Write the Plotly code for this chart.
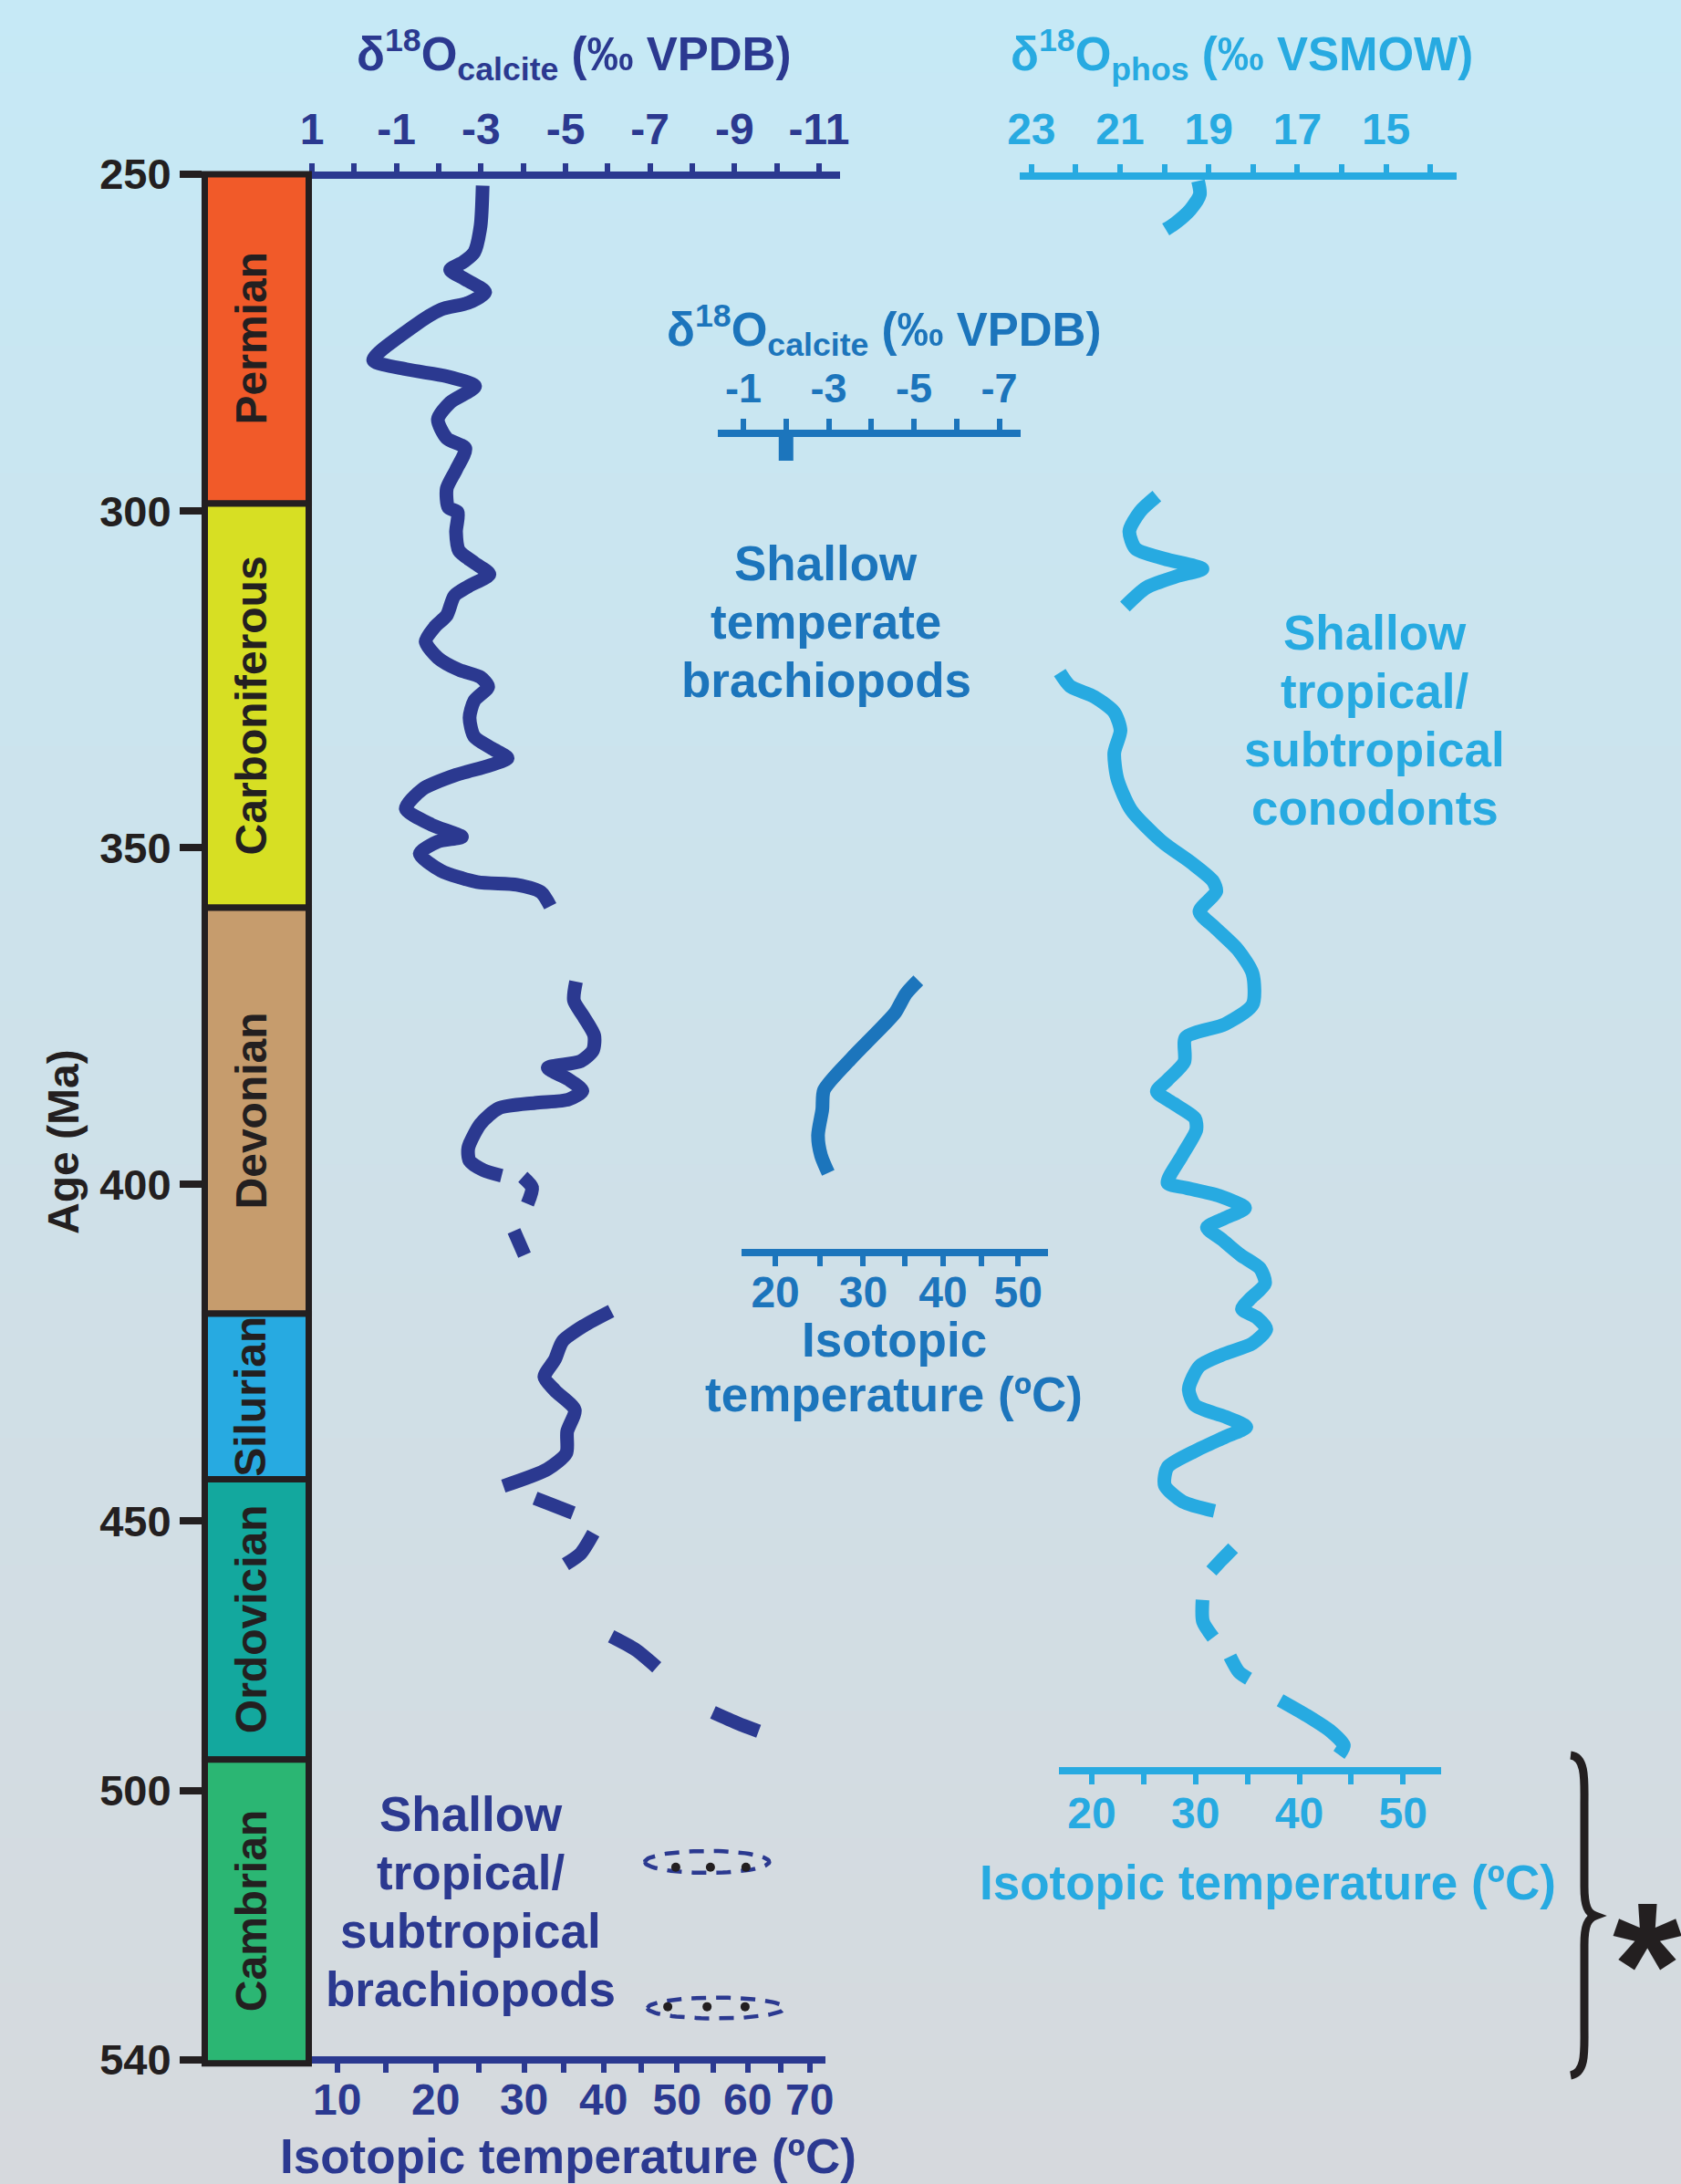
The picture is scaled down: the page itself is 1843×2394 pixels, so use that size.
import numpy as np
import plotly.graph_objects as go

W, H = 1843, 2394
FONT = "Liberation Sans, Arial, Helvetica, sans-serif"
NAVY = "#2B3990"
MID = "#1C75BC"
LIGHT = "#27AAE1"
BLACK = "#231F20"

# ------------------------------------------------------------------ DATA
# Geological periods (age axis, Ma, as drawn)
periods = ["Permian", "Carboniferous", "Devonian", "Silurian", "Ordovician", "Cambrian"]
period_top = [250.0, 298.9, 358.9, 419.2, 443.8, 485.4]
period_base = [298.9, 358.9, 419.2, 443.8, 485.4, 530.5]
period_colors = ["#F15A29", "#D7DF23", "#C69C6D", "#27AAE1", "#13A89E", "#2BB673"]

age_tick_text = ["250", "300", "350", "400", "450", "500", "540"]
age_tick_pos = [250, 300, 350, 400, 450, 490, 530]

# Shallow tropical/subtropical brachiopods: d18O calcite (permil VPDB)
trop_brach_seg1_d18o = [-3.04, -2.99, -2.84, -2.59, -2.27, -2.60, -3.10, -2.70, -2.05, -1.40, -0.45,
                        -1.26, -2.19, -2.86, -2.27, -1.98, -2.19, -2.63, -2.41, -2.19, -2.23, -2.45,
                        -2.41, -2.48, -2.84, -3.20, -2.70, -2.37, -2.19, -1.91, -1.69, -1.98, -2.48,
                        -2.99, -3.17, -2.84, -2.73, -2.84, -3.27, -3.63, -3.20, -2.41, -1.62, -1.22,
                        -1.83, -2.55, -1.98, -1.55, -2.05, -2.91, -3.85, -4.42, -4.64]
trop_brach_seg1_age = [251.7, 257.7, 261.6, 263.0, 264.2, 265.5, 267.5, 269.1, 270.1, 272.6, 277.6,
                       279.0, 280.0, 281.5, 283.9, 286.4, 289.2, 290.7, 293.9, 296.7, 299.5, 300.2,
                       303.1, 305.9, 307.7, 309.4, 311.2, 312.6, 315.5, 317.2, 319.4, 321.8, 323.6,
                       324.7, 326.1, 328.2, 330.7, 333.5, 335.3, 336.7, 337.8, 339.2, 341.3, 344.2,
                       346.6, 348.4, 349.1, 350.9, 353.4, 355.1, 355.5, 356.6, 358.7]
trop_brach_seg2_d18o = [-5.25, -5.20, -5.43, -5.68, -5.65, -5.36, -4.58, -5.07, -5.40, -5.07, -4.28,
                        -3.42, -2.99, -2.70, -2.73, -3.06, -3.49]
trop_brach_seg2_age = [369.9, 372.7, 375.1, 377.9, 380.1, 381.7, 382.7, 384.4, 386.1, 387.4, 387.9,
                       388.7, 391.0, 394.6, 396.5, 397.9, 398.7]
trop_brach_seg3_d18o = [-6.08, -5.43, -4.93, -4.75, -4.50, -4.75, -5.22, -5.04, -5.02, -4.57, -3.53]
trop_brach_seg3_age = [418.8, 421.0, 423.3, 426.0, 428.6, 430.6, 433.5, 436.7, 439.9, 442.3, 444.8]
trop_brach_dash_d18o = [[-3.99, -4.21, -4.10], [-3.78, -4.03], [-4.28, -5.18],
                        [-5.66, -5.36, -5.00], [-6.08, -6.66, -7.16], [-8.49, -9.07, -9.57]]
trop_brach_dash_age = [[398.9, 400.5, 402.9], [406.9, 410.5], [446.6, 448.8],
                       [451.8, 454.8, 456.4], [467.1, 469.1, 471.7], [478.4, 480.0, 481.2]]

# Shallow temperate brachiopods: d18O calcite (permil VPDB)
temp_brach_d18o = [-5.10, -4.81, -4.56, -4.10, -3.53, -2.89, -2.85, -2.75, -2.82, -2.99]
temp_brach_age = [369.7, 371.7, 374.5, 377.6, 381.3, 386.0, 388.9, 392.7, 395.7, 398.3]
temp_brach_marker_d18o = -2.0

# Shallow tropical/subtropical conodonts: d18O phosphate (permil VSMOW)
cono_seg1_d18o = [19.24, 19.20, 19.42, 19.76, 19.97]
cono_seg1_age = [251.0, 253.0, 255.3, 257.3, 258.2]
cono_seg2_d18o = [20.17, 20.55, 20.79, 20.65, 20.00, 19.14, 19.72, 20.41, 20.89]
cono_seg2_age = [297.8, 300.1, 303.0, 305.6, 307.1, 308.6, 309.7, 311.4, 314.2]
cono_seg3_d18o = [22.36, 22.13, 21.58, 21.13, 20.99, 21.13, 21.06, 20.75, 20.07, 19.38, 18.90,
                  18.83, 19.21, 18.87, 18.35, 18.01, 18.01, 18.63, 19.52, 19.55, 19.93, 20.17,
                  19.79, 19.31, 19.28, 19.59, 19.93, 19.52, 18.76, 18.18, 18.63, 19.04, 18.70,
                  18.28, 17.84, 17.73, 18.08, 18.25, 17.91, 17.70, 18.01, 18.70, 19.21, 19.45,
                  19.31, 18.63, 18.15, 18.63, 19.31, 19.93, 19.99, 19.59, 18.87]
cono_seg3_age = [324.0, 326.0, 327.6, 329.9, 332.6, 335.9, 339.8, 344.4, 349.0, 352.3, 355.0,
                 356.5, 359.5, 361.8, 365.1, 368.7, 373.3, 376.2, 378.2, 381.8, 384.5, 386.2,
                 388.0, 390.2, 391.9, 395.6, 399.8, 400.5, 401.7, 403.5, 405.0, 406.4, 408.2,
                 410.5, 412.5, 414.7, 417.1, 418.5, 419.8, 421.5, 423.6, 425.3, 427.0, 430.4,
                 432.8, 434.5, 436.0, 437.5, 439.6, 442.0, 444.7, 447.1, 448.5]
cono_dash_d18o = [[18.45, 18.70, 18.94], [19.14, 19.13, 18.90], [18.52, 18.32, 18.10],
                  [17.39, 16.78, 16.23, 15.95, 16.06]]
cono_dash_age = [[454.0, 455.7, 457.4], [461.7, 464.9, 467.3], [470.1, 472.4, 473.4],
                 [476.6, 478.9, 481.3, 483.3, 484.7]]

# Axis tick definitions
calc_top_ticks = list(range(1, -12, -1))                 # permil VPDB
calc_mid_ticks = list(range(-1, -8, -1))                 # permil VPDB
phos_ticks = list(range(23, 13, -1))                     # permil VSMOW
temp_left_labels = [10, 15, 20, 25, 30, 35, 40, 45, 50, 55, 60, 65, 70]
temp_left_d18o = [0.40, -0.75, -1.93, -2.95, -4.02, -4.96, -5.90, -6.79, -7.64, -8.49, -9.31, -10.09, -10.78]
temp_mid_labels = [20, 25, 30, 35, 40, 45, 50]
temp_mid_d18o = [-1.75, -2.80, -3.81, -4.78, -5.68, -6.58, -7.44]
temp_right_labels = [20, 25, 30, 35, 40, 45, 50]

# small symbols next to the tropical brachiopod label
glyph_d18o = [-8.35, -8.56]
glyph_age = [500.6, 522.3]
glyph_half_w = [1.47, 1.62]
glyph_half_h = [1.63, 1.56]
glyph_dot_d18o = [[-7.61, -8.43, -9.27], [-7.42, -8.35, -9.25]]
glyph_dot_age = [501.4, 522.1]

# ------------------------------------------------------------------ helpers
def px(x):
    return x / W

def py(y):
    return 1 - y / H

def join(segs):
    out = []
    for i, s in enumerate(segs):
        if i:
            out.append(None)
        out.extend(s)
    return out

def axis(color, dom, rng, pos, side, tickvals, ticktext, size=48, ticklen=10, standoff=0):
    return dict(domain=[px(dom[0]), px(dom[1])], range=rng, anchor="free", position=pos,
                side=side, showgrid=False, zeroline=False, showline=True, linecolor=color,
                linewidth=8, ticks="outside", tickcolor=color, tickwidth=6, ticklen=ticklen,
                tickvals=tickvals, ticktext=ticktext, ticklabelstandoff=standoff,
                tickfont=dict(family=FONT, size=size, color=color, weight="bold"),
                automargin=False, fixedrange=True)

fig = go.Figure()

# background gradient
shapes = []
top_c = np.array([198, 233, 246])
bot_c = np.array([214, 217, 221])
nb = 120
for i in range(nb):
    f = (i + 0.5) / nb
    c = (top_c + (bot_c - top_c) * f).round().astype(int)
    shapes.append(dict(type="rect", xref="paper", yref="paper", x0=-0.02, x1=1.02,
                       y0=1 - (i + 1) / nb - 0.001, y1=1 - i / nb,
                       fillcolor=f"rgb({c[0]},{c[1]},{c[2]})", line=dict(width=0), layer="below"))

# period column
fig.add_trace(go.Bar(x=[0] * len(periods), y=[b - t for t, b in zip(period_top, period_base)],
                     base=period_top, width=1, xaxis="x7", yaxis="y",
                     marker=dict(color=period_colors, line=dict(color=BLACK, width=7)),
                     hoverinfo="skip", showlegend=False))

line_kw = dict(width=15, shape="spline", smoothing=0.7)
# tropical brachiopods
fig.add_trace(go.Scatter(x=join([trop_brach_seg1_d18o, trop_brach_seg2_d18o, trop_brach_seg3_d18o] + trop_brach_dash_d18o),
                         y=join([trop_brach_seg1_age, trop_brach_seg2_age, trop_brach_seg3_age] + trop_brach_dash_age),
                         mode="lines", line=dict(color=NAVY, **line_kw), xaxis="x", yaxis="y",
                         hoverinfo="skip", showlegend=False, connectgaps=False))
# temperate brachiopods
fig.add_trace(go.Scatter(x=temp_brach_d18o, y=temp_brach_age, mode="lines",
                         line=dict(color=MID, **line_kw), xaxis="x3", yaxis="y",
                         hoverinfo="skip", showlegend=False))
# conodonts
fig.add_trace(go.Scatter(x=join([cono_seg1_d18o, cono_seg2_d18o, cono_seg3_d18o] + cono_dash_d18o),
                         y=join([cono_seg1_age, cono_seg2_age, cono_seg3_age] + cono_dash_age),
                         mode="lines", line=dict(color=LIGHT, **line_kw), xaxis="x5", yaxis="y",
                         hoverinfo="skip", showlegend=False, connectgaps=False))

# glyphs
t = np.linspace(0, 2 * np.pi, 80)
for cx, cy, hw, hh, dd, da in zip(glyph_d18o, glyph_age, glyph_half_w, glyph_half_h, glyph_dot_d18o, glyph_dot_age):
    fig.add_trace(go.Scatter(x=cx + hw * np.cos(t), y=cy + hh * np.sin(t), mode="lines",
                             line=dict(color=NAVY, width=4.5, dash="16px,11px"), xaxis="x", yaxis="y",
                             hoverinfo="skip", showlegend=False))
    fig.add_trace(go.Scatter(x=dd, y=[da] * len(dd), mode="markers",
                             marker=dict(color=BLACK, size=10), xaxis="x", yaxis="y",
                             hoverinfo="skip", showlegend=False))

# dummy traces so the temperature axes exist
for ax_id, xv in (("x2", -5), ("x4", -4), ("x6", 30)):
    fig.add_trace(go.Scatter(x=[xv], y=[260], mode="markers", marker=dict(opacity=0),
                             xaxis=ax_id, yaxis="y", hoverinfo="skip", showlegend=False))

layout = dict(width=W, height=H, autosize=False,
              margin=dict(l=0, r=0, t=0, b=0, pad=0, autoexpand=False),
              paper_bgcolor="#C9E6F3", plot_bgcolor="rgba(0,0,0,0)", showlegend=False,
              font=dict(family=FONT))

layout["xaxis"] = axis(NAVY, (332, 921), [1.216, -11.497], py(192), "top",
                       calc_top_ticks, [str(v) if v % 2 else "" for v in calc_top_ticks], ticklen=9, standoff=2)
layout["xaxis2"] = axis(NAVY, (340, 905), [1.043, -11.152], py(2258), "bottom",
                        temp_left_d18o, [str(v) if v % 10 == 0 else "" for v in temp_left_labels], ticklen=10, standoff=-12)
layout["xaxis3"] = axis(MID, (787, 1119), [-0.401, -7.5], py(475), "top",
                        calc_mid_ticks, [str(v) if v % 2 else "" for v in calc_mid_ticks], size=45, ticklen=12, standoff=0)
layout["xaxis4"] = axis(MID, (813, 1149), [-0.957, -8.141], py(1373), "bottom",
                        temp_mid_d18o, [str(v) if v % 10 == 0 else "" for v in temp_mid_labels], ticklen=11, standoff=-13)
layout["xaxis5"] = axis(LIGHT, (1117.6, 1597), [23.272, 13.407], py(193), "top",
                        phos_ticks, [str(v) if v % 2 else "" for v in phos_ticks], ticklen=9, standoff=3)
layout["xaxis6"] = axis(LIGHT, (1161, 1579.5), [16.83, 53.63], py(1941), "bottom",
                        temp_right_labels, [str(v) if v % 10 == 0 else "" for v in temp_right_labels], ticklen=11, standoff=-10)
layout["xaxis7"] = dict(domain=[px(214), px(349)], range=[-0.592, 0.592], anchor="free", position=0,
                        visible=False, fixedrange=True, automargin=False)
layout["yaxis"] = dict(domain=[0, 1], range=[548.43, 224.13], anchor="free", position=px(221),
                       side="left", showgrid=False, zeroline=False, showline=False,
                       ticks="outside", ticklen=24, tickwidth=8, tickcolor=BLACK,
                       tickvals=age_tick_pos, ticktext=age_tick_text, ticklabelstandoff=0,
                       tickfont=dict(family=FONT, size=47, color=BLACK, weight="bold"),
                       automargin=False, fixedrange=True)

ann = []
def text(s, x, y, color, size=53, angle=0, xref="paper", yref="paper"):
    ann.append(dict(text=s, x=x, y=y, xref=xref, yref=yref, showarrow=False, textangle=angle,
                    xanchor="center", yanchor="middle",
                    font=dict(family=FONT, size=size, color=color, weight="bold")))

text("δ<sup>18</sup>O<sub>calcite</sub> (‰ VPDB)", px(629), py(60), NAVY, size=51)
text("δ<sup>18</sup>O<sub>phos</sub> (‰ VSMOW)", px(1361), py(60), LIGHT, size=51)
text("δ<sup>18</sup>O<sub>calcite</sub> (‰ VPDB)", px(969), py(362), MID, size=51)

for s, y in zip(["Shallow", "temperate", "brachiopods"], [617, 681, 745]):
    text(s, px(905.5), py(y), MID)
for s, y in zip(["Shallow", "tropical/", "subtropical", "conodonts"], [693, 757, 821.5, 885.6]):
    text(s, px(1507), py(y), LIGHT)
for s, y in zip(["Shallow", "tropical/", "subtropical", "brachiopods"], [1988, 2052, 2116, 2180]):
    text(s, px(516), py(y), NAVY)
text("Isotopic", px(980), py(1468), MID)
text("temperature (ºC)", px(980), py(1528), MID)
text("Isotopic temperature (ºC)", px(623), py(2363), NAVY)
text("Isotopic temperature (ºC)", px(1389.5), py(2063), LIGHT)
text("Age (Ma)", px(69), py(1252), BLACK, size=48, angle=-90)
for name, t0, t1 in zip(periods, period_top, period_base):
    text(name, px(275), (t0 + t1) / 2, BLACK, size=48, angle=-90, yref="y")
ann.append(dict(text="*", x=px(1806), y=py(2153), xref="paper", yref="paper", showarrow=False,
                xanchor="center", yanchor="middle",
                font=dict(family=FONT, size=195, color=BLACK, weight="bold")))

# marker bar under middle axis
shapes.append(dict(type="rect", xref="x3", yref="paper",
                   x0=temp_brach_marker_d18o - 8 / 46.77, x1=temp_brach_marker_d18o + 8 / 46.77,
                   y0=py(505), y1=py(478), fillcolor=MID, line=dict(width=0)))

# brace
def P(x, y):
    return f"{x / W:.5f},{1 - y / H:.5f}"
brace = (f"M {P(1722,1924)} C {P(1739,1926)} {P(1737,1952)} {P(1737,1978)} L {P(1737,2068)} "
         f"C {P(1737,2090)} {P(1741,2097)} {P(1749,2100)} C {P(1741,2103)} {P(1737,2110)} {P(1737,2132)} "
         f"L {P(1737,2222)} C {P(1737,2248)} {P(1739,2272)} {P(1722,2275)}")
shapes.append(dict(type="path", xref="paper", yref="paper", path=brace,
                   line=dict(color=BLACK, width=9)))

layout["annotations"] = ann
layout["shapes"] = shapes
fig.update_layout(**layout)
fig.write_html("out.html",
               config={"displayModeBar": False, "responsive": False},
               post_script="document.body.style.margin='0';document.body.style.padding='0';"
                           "document.body.style.overflow='hidden';"
                           "document.documentElement.style.overflow='hidden';")
